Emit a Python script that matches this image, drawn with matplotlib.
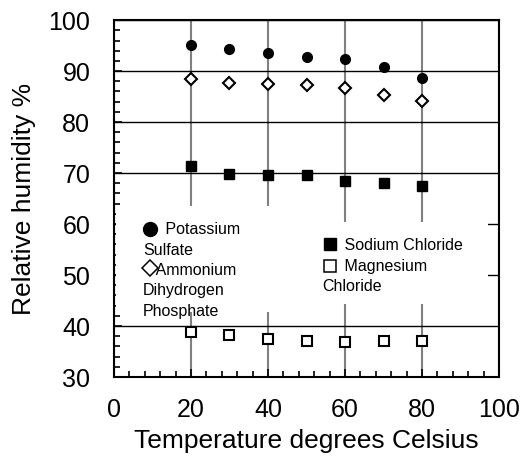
import matplotlib
matplotlib.use("Agg")
import matplotlib.pyplot as plt
from matplotlib.ticker import MultipleLocator
from matplotlib.patches import Rectangle

plt.rcParams['font.family'] = ['Liberation Sans', 'DejaVu Sans']

# temperatures (deg C) and relative humidity (%)
temps = [20, 30, 40, 50, 60, 70, 80]
potassium_sulfate = [95.2, 94.3, 93.5, 92.8, 92.4, 90.9, 88.6]
ammonium_phosphate = [88.4, 87.6, 87.4, 87.2, 86.6, 85.3, 84.2]
sodium_chloride = [71.4, 69.9, 69.6, 69.7, 68.4, 68.0, 67.5]
magnesium_chloride = [38.8, 38.2, 37.5, 37.1, 36.9, 37.0, 37.0]

styles = {
    'ps': dict(marker='o', color='black', ms=7, ls='none'),
    'ap': dict(marker='D', mfc='white', mec='black', mew=1.5, ms=6, ls='none'),
    'nc': dict(marker='s', color='black', ms=7.5, ls='none'),
    'mc': dict(marker='s', mfc='white', mec='black', mew=1.5, ms=7.5, ls='none'),
}
# legend keys are drawn a bit larger / thinner than the data marks
keys = {
    'ps': dict(styles['ps'], ms=10),
    'ap': dict(styles['ap'], ms=8, mew=1.1),
    'nc': dict(styles['nc'], ms=8.5),
    'mc': dict(styles['mc'], ms=8.5, mew=1.1),
}

fig = plt.figure(figsize=(5.26, 4.57), dpi=100)
ax = fig.add_axes([0.2167, 0.175, 0.732, 0.781])

ax.plot(temps, potassium_sulfate, zorder=4, **styles['ps'])
ax.plot(temps, ammonium_phosphate, zorder=4, **styles['ap'])
ax.plot(temps, sodium_chloride, zorder=4, **styles['nc'])
ax.plot(temps, magnesium_chloride, zorder=4, **styles['mc'])

ax.set_xlim(0, 100)
ax.set_ylim(30, 100)
ax.xaxis.set_major_locator(MultipleLocator(20))
ax.xaxis.set_minor_locator(MultipleLocator(4))
ax.yaxis.set_major_locator(MultipleLocator(10))
ax.yaxis.set_minor_locator(MultipleLocator(2))
ax.tick_params(which='both', direction='in', labelsize=18, width=1.2)
ax.tick_params(which='major', length=6)
ax.tick_params(axis='x', which='major', pad=15)
ax.tick_params(axis='y', which='major', pad=17)
ax.tick_params(which='minor', length=4)

ax.xaxis.grid(True, color='gray', lw=1.5)
ax.yaxis.grid(True, color='black', lw=1)
for s in ax.spines.values():
    s.set_linewidth(1.5)

ax.set_xlabel('Temperature degrees Celsius', fontsize=19, labelpad=5)
ax.set_ylabel('Relative humidity %', fontsize=19, labelpad=9)

# legend: white blocks over the grid, keys + wrapped text like the original
for x0, y0, w, h in [(0.004, 0.182, 0.482, 0.296), (0.486, 0.2045, 0.485, 0.229)]:
    ax.add_patch(Rectangle((x0, y0), w, h, transform=ax.transAxes,
                           facecolor='white', edgecolor='none', zorder=2.5))

ax.plot(0.0935, 0.4146, transform=ax.transAxes, zorder=5, **keys['ps'])
ax.plot(0.0935, 0.3053, transform=ax.transAxes, zorder=5, **keys['ap'])
ax.plot(0.561, 0.3725, transform=ax.transAxes, zorder=5, **keys['nc'])
ax.plot(0.561, 0.3118, transform=ax.transAxes, zorder=5, **keys['mc'])

ax.text(0.075, 0.434, '     Potassium\nSulfate\n   Ammonium\nDihydrogen\nPhosphate',
        transform=ax.transAxes, fontsize=11.5, va='top', ha='left',
        linespacing=1.45, zorder=5)
ax.text(0.54, 0.389, '     Sodium Chloride\n     Magnesium\nChloride',
        transform=ax.transAxes, fontsize=11.5, va='top', ha='left',
        linespacing=1.45, zorder=5)

fig.savefig('out.png', dpi=100)
